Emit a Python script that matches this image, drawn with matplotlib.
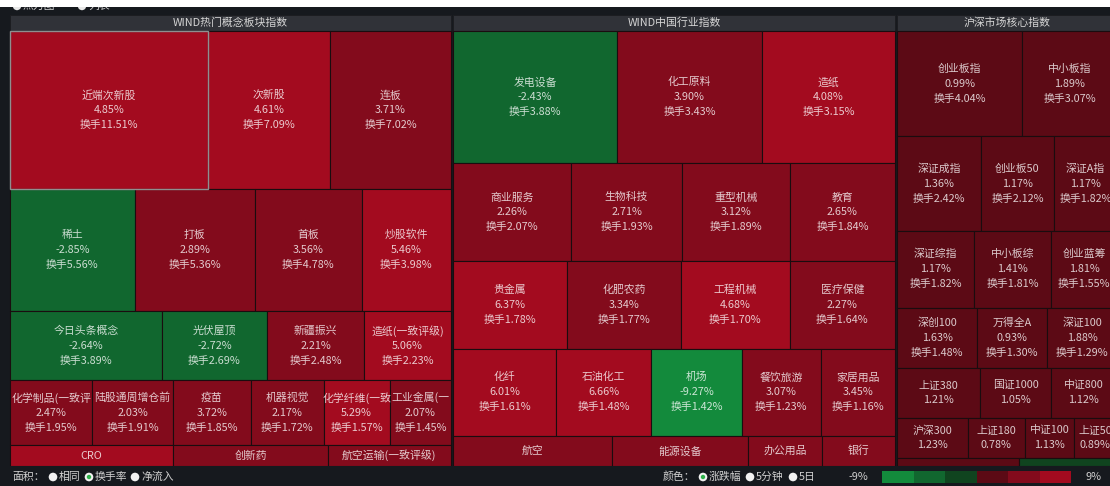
import matplotlib.pyplot as plt
from matplotlib.patches import Rectangle, Circle

plt.rcParams['font.family'] = ['Noto Sans CJK SC', 'DejaVu Sans']

# WIND热门概念板块指数
concept_title = "WIND热门概念板块指数"
concept_names = ["近端次新股", "次新股", "连板",
                 "稀土", "打板", "首板", "炒股软件",
                 "今日头条概念", "光伏屋顶", "新疆振兴", "造纸(一致评级)",
                 "化学制品(一致评", "陆股通周增仓前", "疫苗", "机器视觉", "化学纤维(一致", "工业金属(一",
                 "CRO", "创新药", "航空运输(一致评级)"]
concept_change = [4.85, 4.61, 3.71, -2.85, 2.89, 3.56, 5.46, -2.64, -2.72, 2.21, 5.06,
                  2.47, 2.03, 3.72, 2.17, 5.29, 2.07, 4.3, 3.2, 2.8]
concept_turnover = [11.51, 7.09, 7.02, 5.56, 5.36, 4.78, 3.98, 3.89, 2.69, 2.48, 2.23,
                    1.95, 1.91, 1.85, 1.72, 1.57, 1.45, 1.26, 1.19, 0.95]
concept_rows = [3, 4, 4, 6, 3]

# WIND中国行业指数
industry_title = "WIND中国行业指数"
industry_names = ["发电设备", "化工原料", "造纸",
                  "商业服务", "生物科技", "重型机械", "教育",
                  "贵金属", "化肥农药", "工程机械", "医疗保健",
                  "化纤", "石油化工", "机场", "餐饮旅游", "家居用品",
                  "航空", "能源设备", "办公用品", "银行"]
industry_change = [-2.43, 3.90, 4.08, 2.26, 2.71, 3.12, 2.65, 6.37, 3.34, 4.68, 2.27,
                   6.01, 6.66, -9.27, 3.07, 3.45, 2.9, 2.5, 3.1, 2.4]
industry_turnover = [3.88, 3.43, 3.15, 2.07, 1.93, 1.89, 1.84, 1.78, 1.77, 1.70, 1.64,
                     1.61, 1.48, 1.42, 1.23, 1.16, 0.85, 0.73, 0.40, 0.39]
industry_rows = [3, 4, 4, 5, 4]

# 沪深市场核心指数
core_title = "沪深市场核心指数"
core_names = ["创业板指", "中小板指",
              "深证成指", "创业板50", "深证A指",
              "深证综指", "中小板综", "创业蓝筹",
              "深创100", "万得全A", "深证100",
              "上证380", "国证1000", "中证800",
              "沪深300", "上证180", "中证100", "上证50",
              "", ""]
core_change = [0.99, 1.89, 1.36, 1.17, 1.17, 1.17, 1.41, 1.81, 1.63, 0.93, 1.88,
               1.21, 1.05, 1.12, 1.23, 0.78, 1.13, 0.89, 0.6, -0.4]
core_turnover = [4.04, 3.07, 2.42, 2.12, 1.82, 1.82, 1.81, 1.55, 1.48, 1.30, 1.29,
                 1.28, 1.08, 1.02, 0.87, 0.70, 0.60, 0.53, 0.30, 0.24]
core_rows = [2, 3, 3, 3, 3, 4, 2]

palette = ["#138a3c", "#11672f", "#10441f", "#5c0a15", "#830b1c", "#a30b1f"]
bounds = [-4, -2, 0, 2, 4]

BG = "#16191e"
W, H = 1110, 486
FS = 7.8


def color_for(v):
    k = sum(v >= b for b in bounds)
    return palette[k]


def row_layout(weights, rows, x0, y0, w, h):
    total = sum(weights)
    rects = []
    i = 0
    y = y0
    for n in rows:
        vals = weights[i:i + n]
        rh = h * sum(vals) / total
        x = x0
        for v in vals:
            cw = w * v / sum(vals)
            rects.append((x, y, cw, rh))
            x += cw
        y += rh
        i += n
    return rects


fig = plt.figure(figsize=(W / 100, H / 100), dpi=100, facecolor=BG)
ax = fig.add_axes([0, 0, 1, 1])
ax.set_xlim(0, W)
ax.set_ylim(H, 0)
ax.axis("off")
ax.add_patch(Rectangle((0, 0), W, H, facecolor=BG, edgecolor="none", zorder=0))

groups = [
    (concept_title, concept_names, concept_change, concept_turnover, concept_rows, 10, 441),
    (industry_title, industry_names, industry_change, industry_turnover, industry_rows, 453, 442),
    (core_title, core_names, core_change, core_turnover, core_rows, 897, 220),
]
top, bottom = 31, 466

for title, names, chg, turn, rows, gx, gw in groups:
    ax.add_patch(Rectangle((gx, 15), gw, top - 15, facecolor="#303238",
                           edgecolor="#1c1d21", lw=0.7, zorder=1))
    ax.text(gx + gw / 2, 23, title, color="#d6d6d6", fontsize=FS,
            ha="center", va="center", zorder=2)
    rects = row_layout(turn, rows, gx, top, gw, bottom - top)
    for (x, y, cw, rh), name, c, t in zip(rects, names, chg, turn):
        p = Rectangle((x, y), cw, rh, facecolor=color_for(c),
                      edgecolor="#1a0c0f", lw=0.8, zorder=1)
        ax.add_patch(p)
        if rh >= 52:
            lines = [name, f"{c:.2f}%", f"换手{t:.2f}%"]
        elif rh >= 36:
            lines = [name, f"{c:.2f}%"]
        elif rh >= 15:
            lines = [name]
        else:
            lines = []
        cy = y + rh / 2
        for k, s in enumerate(lines):
            ty = cy + (k - (len(lines) - 1) / 2) * 15
            txt = ax.text(x + cw / 2, ty, s, color="white", alpha=0.78,
                          fontsize=FS, ha="center", va="center", zorder=3)
            txt.set_clip_path(p)

# highlighted cell
hx, hy, hw, hh = row_layout(concept_turnover, concept_rows, 10, top, 441, bottom - top)[0]
ax.add_patch(Rectangle((hx, hy), hw, hh, facecolor="none", edgecolor="#8f8f8f",
                       lw=1.0, zorder=4))

# top strip (clipped tabs)
for cx, label in [(17, "热力图"), (82, "列表")]:
    ax.add_patch(Circle((cx, 6), 4.2, facecolor="#e8e8e8", edgecolor="none", zorder=1))
    ax.text(cx + 6, 6, label, color="#cfcfcf", fontsize=FS, ha="left", va="center", zorder=1)
ax.add_patch(Rectangle((0, 0), W, 7, facecolor="white", edgecolor="none", zorder=5))


def radio(cx, cy, selected):
    ax.add_patch(Circle((cx, cy), 4.3, facecolor="#f2f2f2", edgecolor="none", zorder=6))
    if selected:
        ax.add_patch(Circle((cx, cy), 2.2, facecolor="#2eb24b", edgecolor="none", zorder=7))


# bottom bar
ax.add_patch(Rectangle((0, bottom), W, H - bottom, facecolor=BG, edgecolor="none", zorder=5))
yb = 477
ax.text(12, yb, "面积：", color="#cfcfcf", fontsize=FS, ha="left", va="center", zorder=6)
for cx, label, sel in [(53, "相同", False), (89, "换手率", True), (135, "净流入", False)]:
    radio(cx, yb, sel)
    ax.text(cx + 6, yb, label, color="#cfcfcf", fontsize=FS, ha="left", va="center", zorder=6)

ax.text(663, yb, "颜色：", color="#cfcfcf", fontsize=FS, ha="left", va="center", zorder=6)
for cx, label, sel in [(703, "涨跌幅", True), (750, "5分钟", False), (793, "5日", False)]:
    radio(cx, yb, sel)
    ax.text(cx + 6, yb, label, color="#cfcfcf", fontsize=FS, ha="left", va="center", zorder=6)

ax.text(858, yb, "-9%", color="#cfcfcf", fontsize=FS, ha="center", va="center", zorder=6)
bw = (1071 - 882) / len(palette)
for k, col in enumerate(palette):
    ax.add_patch(Rectangle((882 + k * bw, 471), bw, 12, facecolor=col,
                           edgecolor="none", zorder=6))
ax.text(1094, yb, "9%", color="#cfcfcf", fontsize=FS, ha="center", va="center", zorder=6)

fig.savefig("out.png", dpi=100, facecolor=BG)
